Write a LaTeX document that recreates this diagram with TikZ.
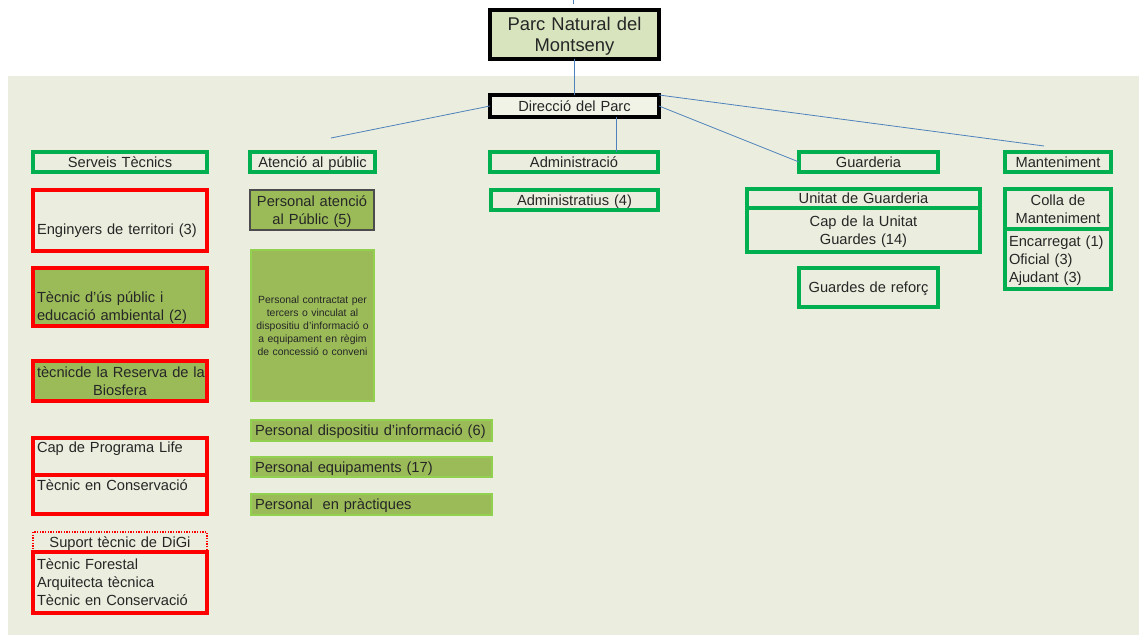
\documentclass[tikz,border=0pt]{standalone}
\usepackage{fontspec}
\setmainfont{Liberation Sans}
\usepackage{tikz}
\definecolor{bgpark}{RGB}{235,238,222}
\definecolor{olivefill}{RGB}{155,187,89}
\definecolor{lightgreen}{RGB}{146,208,80}
\definecolor{parkgreen}{RGB}{0,176,80}
\definecolor{parcfill}{RGB}{215,228,189}
\definecolor{dirfill}{RGB}{241,243,230}
\definecolor{linkblue}{RGB}{79,129,189}
\newcommand{\bxstrut}{\rule[-0.207\baselineskip]{0pt}{\baselineskip}}
\newcommand{\mkbox}[7]{%
    \pgfmathsetmacro\bxw{(#5-#3)*0.75}%
    \pgfmathsetmacro\bxh{(#6-#4)*0.75}%
    \pgfmathsetmacro\bxt{\bxw-6}%
    \node[#1,minimum width=\bxw pt,minimum height=\bxh pt,text width=\bxt pt]
        (#2) at ({(#3+#5)/2},{(#4+#6)/2}) {#7} ;}
\tikzset{
    box/.style={
        inner xsep=3pt,
        inner ysep=0pt,
        outer sep=0pt,
        align=center,
        text=black!85,
        font=\fontsize{11}{13.5}\selectfont,
        execute at begin node=\bxstrut,
        execute at end node=\bxstrut,
    },
    headbox/.style={box,draw=parkgreen,line width=2.3pt},
    bossbox/.style={box,draw=black,line width=2.5pt},
    redbox/.style={box,draw=red,line width=2.3pt},
    olivebox/.style={box,fill=olivefill,draw=lightgreen,line width=1.5pt},
    link/.style={linkblue,line width=0.6pt},
}
\begin{document}
\begin{tikzpicture}[x=0.75pt,y=-0.75pt]
            \useasboundingbox (0,0) rectangle (1139,635);
            \fill[bgpark] (8,76) rectangle (1139,635);

            \mkbox{bossbox,fill=parcfill,font=\fontsize{13.8}{15.75}\selectfont}{parc}{490}{10}{659}{59}{Parc Natural del\\Montseny}
            \mkbox{bossbox,fill=dirfill}{dir}{490}{95}{659}{117}{Direcció del Parc}

            \mkbox{headbox}{ser}{33}{152}{207}{172}{Serveis Tècnics}
            \mkbox{headbox}{atn}{250}{152}{375}{172}{Atenció al públic}
            \mkbox{headbox}{adm}{490}{152}{658}{172}{Administració}
            \mkbox{headbox}{gua}{799}{152}{938}{172}{Guarderia}
            \mkbox{headbox}{mnt}{1005}{152}{1111}{172}{Manteniment}

            \mkbox{redbox,align=left}{eng}{33}{190}{207}{251}{\bxstrut\\Enginyers de territori (3)}
            \mkbox{redbox,fill=olivefill,align=left}{tup}{33}{268}{207}{326}{\bxstrut\\Tècnic d'ús públic i\\educació ambiental (2)}
            \mkbox{redbox,fill=olivefill}{rb}{33}{361}{207}{401}{\mbox{tècnicde la Reserva de la}\\Biosfera}
            \mkbox{redbox,align=left}{life}{33}{438}{207}{475}{Cap de Programa Life\\\bxstrut}
            \mkbox{redbox,align=left}{tcons}{33}{475}{207}{514}{Tècnic en Conservació\\\bxstrut}
            \mkbox{box,draw=red,densely dotted,line width=1pt}{digi}{33}{532}{207}{552}{Suport tècnic de DiGi}
            \mkbox{redbox,align=left}{digb}{33}{552}{207}{613}{Tècnic Forestal\\Arquitecta tècnica\\Tècnic en Conservació}

            \mkbox{box,fill=olivefill,draw=black!70,line width=1.2pt}{pap}{250}{190}{374}{230}{Personal atenció\\al Públic (5)}
            \mkbox{olivebox,font=\fontsize{7.8}{9.75}\selectfont}{pct}{251}{250}{374}{401}{Personal contractat per\\tercers o vinculat al\\dispositiu d'informació o\\a equipament en règim\\de concessió o conveni}
            \mkbox{olivebox,align=left}{pdi}{251}{420}{492}{441}{Personal dispositiu d'informació (6)}
            \mkbox{olivebox,align=left}{peq}{251}{457}{492}{477}{Personal equipaments (17)}
            \mkbox{olivebox,align=left}{ppr}{251}{494}{492}{515}{Personal\ \ en pràctiques}

            \mkbox{headbox}{adms}{491}{190}{658}{210}{Administratius (4)}

            \mkbox{headbox}{ug}{747}{189}{980}{208}{Unitat de Guarderia}
            \mkbox{headbox}{cug}{747}{208}{980}{252}{Cap de la Unitat\\Guardes (14)}
            \mkbox{headbox}{gr}{799}{268}{938}{307}{Guardes de reforç}

            \mkbox{headbox}{colla}{1005}{189}{1111}{229}{Colla de\\Manteniment}
            \mkbox{headbox,align=left}{enc}{1005}{229}{1111}{289}{Encarregat (1)\\Oficial (3)\\Ajudant (3)}

            \coordinate (tick) at (573,0);
            \coordinate (atnend) at (331,138);
            \coordinate (admline) at (616,0);
            \coordinate (mntend) at (1044,146);

            \draw[link] (tick) -- ++(0,4);
            \draw[link] (parc) -- (dir);
            \draw[link] (dir.west) -- (atnend);
            \draw[link] (dir.south -| admline) -- (adm.north -| admline);
            \draw[link] (dir.east) -- (gua.west);
            \draw[link] (dir.north east) -- (mntend);
        \end{tikzpicture}
\end{document}
